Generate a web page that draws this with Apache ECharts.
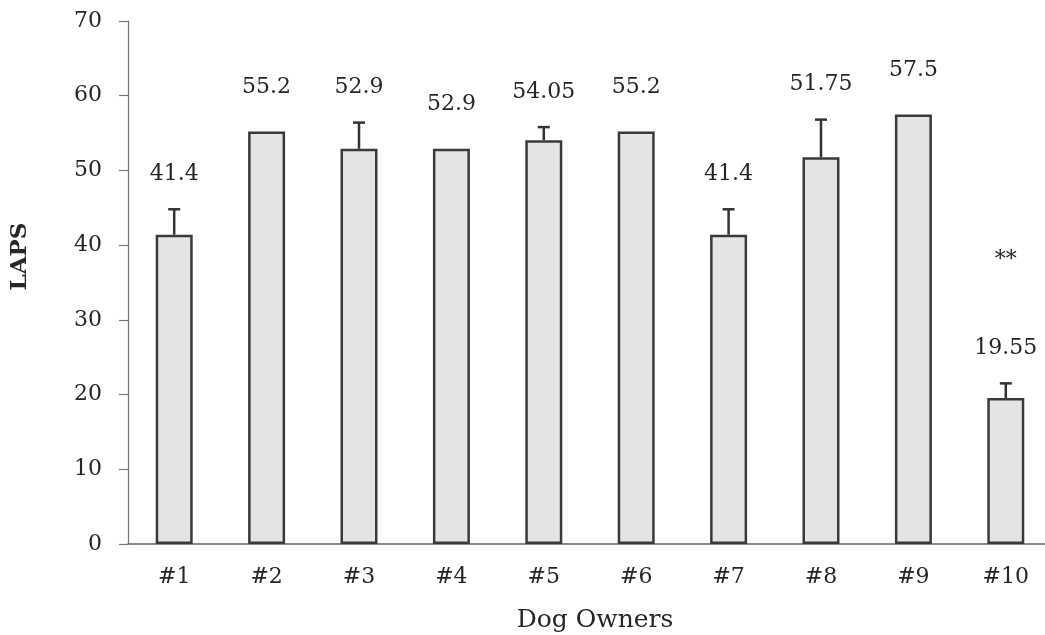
<!DOCTYPE html>
<html>
<head>
<meta charset="utf-8">
<script src="https://cdn.jsdelivr.net/npm/echarts@6/dist/echarts.min.js"></script>
<style>
  html, body { margin: 0; padding: 0; background: #fff; }
  #ec { width: 1045px; height: 635px; }
</style>
</head>
<body>
<div id="ec"></div>
<script>
var owners = ["#1", "#2", "#3", "#4", "#5", "#6", "#7", "#8", "#9", "#10"];
var laps = [41.4, 55.2, 52.9, 52.9, 54.05, 55.2, 41.4, 51.75, 57.5, 19.55];
var errors = [3.4, 0, 3.5, 0, 1.75, 0, 3.4, 5.05, 0, 1.95];
var marks = ["", "", "", "", "", "", "", "", "", "**"];

var font = "'DejaVu Serif', 'Liberation Serif', serif";
var ink = "#262626";

var myChart = echarts.init(document.getElementById("ec"));
myChart.setOption({
  animation: false,
  grid: {
    left: 128,
    top: 21,
    bottom: 91,
    width: 924,
    outerBoundsMode: "none",
  },
  xAxis: {
    type: "category",
    data: owners,
    name: "Dog Owners",
    nameLocation: "middle",
    nameGap: 64,
    nameTextStyle: { fontFamily: font, fontSize: 25, color: ink, padding: [0, 0, 0, 10] },
    axisLine: { lineStyle: { color: "#666", width: 1.5 } },
    axisTick: { length: 8, lineStyle: { color: "#666", width: 1.5 } },
    axisLabel: { fontFamily: font, fontSize: 22, color: ink, margin: 22 },
  },
  yAxis: {
    type: "value",
    min: 0,
    max: 70,
    interval: 10,
    name: "LAPS",
    nameLocation: "middle",
    nameGap: 96,
    nameTextStyle: {
      fontFamily: font,
      fontSize: 23,
      fontWeight: "bold",
      color: ink,
      padding: [0, 0, 0, 52],
    },
    splitLine: { show: false },
    axisLine: { show: true, lineStyle: { color: "#777", width: 1.2 } },
    axisTick: { show: true, length: 9, lineStyle: { color: "#777", width: 1.2 } },
    axisLabel: { fontFamily: font, fontSize: 22, color: ink, margin: 26 },
  },
  series: [
    {
      name: "LAPS",
      type: "bar",
      data: laps,
      barWidth: 37,
      itemStyle: { color: "#e4e4e4", borderColor: "#3a3a3a", borderWidth: 2.5 },
    },
    {
      // error bars, value labels and significance marks
      type: "custom",
      data: laps.map(function (v, i) { return [i, v, errors[i]]; }),
      z: 5,
      renderItem: function (params, api) {
        var i = api.value(0);
        var v = api.value(1);
        var e = api.value(2);
        var base = api.coord([i, v]);
        var top = api.coord([i, v + e]);
        var children = [];
        if (e > 0) {
          children.push({
            type: "line",
            shape: { x1: base[0], y1: base[1], x2: top[0], y2: top[1] },
            style: { stroke: "#333", lineWidth: 2.5 },
          });
          children.push({
            type: "line",
            shape: { x1: top[0] - 6, y1: top[1], x2: top[0] + 6, y2: top[1] },
            style: { stroke: "#333", lineWidth: 2.5 },
          });
        }
        var labelY = top[1] - (e > 0 ? 35 : 44);
        children.push({
          type: "text",
          x: top[0],
          y: labelY,
          style: {
            text: String(v),
            font: "22px " + font,
            fill: ink,
            align: "center",
            verticalAlign: "middle",
          },
        });
        if (marks[i]) {
          children.push({
            type: "text",
            x: top[0],
            y: labelY - 88,
            style: {
              text: marks[i],
              font: "22px " + font,
              fill: ink,
              align: "center",
              verticalAlign: "middle",
            },
          });
        }
        return { type: "group", children: children };
      },
    },
  ],
});
</script>
</body>
</html>
